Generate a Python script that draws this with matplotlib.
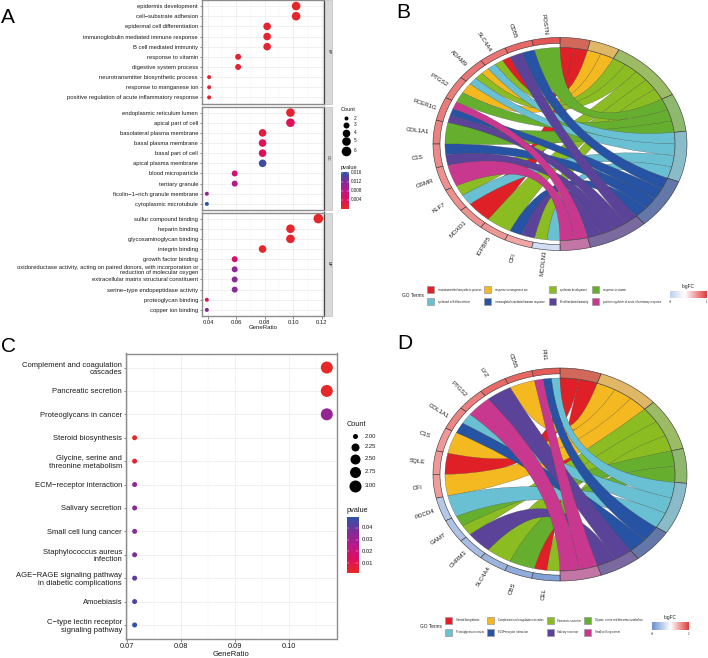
import numpy as np
import matplotlib
matplotlib.use("Agg")
import matplotlib.pyplot as plt
from matplotlib.colors import LinearSegmentedColormap, TwoSlopeNorm
from matplotlib.patches import PathPatch, Polygon, Rectangle
from matplotlib.path import Path
from matplotlib.ticker import MultipleLocator

plt.rcParams["font.family"] = ["Liberation Sans", "DejaVu Sans"]

W, H = 708, 658

# panel A
bp_terms = ["epidermis development", "cell\u2212substrate adhesion", "epidermal cell differentiation",
            "immunoglobulin mediated immune response", "B cell mediated immunity", "response to vitamin",
            "digestive system process", "neurotransmitter biosynthetic process", "response to manganese ion",
            "positive regulation of acute inflammatory response"]
bp_ratio = [0.102, 0.102, 0.0816, 0.0816, 0.0816, 0.0612, 0.0612, 0.0408, 0.0408, 0.0408]
bp_count = [5, 5, 4, 4, 4, 3, 3, 2, 2, 2]
bp_pvalue = [0.0005, 0.0007, 0.0008, 0.001, 0.001, 0.001, 0.001, 0.001, 0.001, 0.001]

cc_terms = ["endoplasmic reticulum lumen", "apical part of cell", "basolateral plasma membrane",
            "basal plasma membrane", "basal part of cell", "apical plasma membrane", "blood microparticle",
            "tertiary granule", "ficolin\u22121\u2212rich granule membrane", "cytoplasmic microtubule"]
cc_ratio = [0.098, 0.098, 0.0784, 0.0784, 0.0784, 0.0784, 0.0588, 0.0588, 0.0392, 0.0392]
cc_count = [5, 5, 4, 4, 4, 4, 3, 3, 2, 2]
cc_pvalue = [0.0008, 0.0035, 0.002, 0.0035, 0.004, 0.0155, 0.006, 0.0085, 0.0105, 0.0165]

mf_terms = ["sulfur compound binding", "heparin binding", "glycosaminoglycan binding", "integrin binding",
            "growth factor binding",
            "oxidoreductase activity, acting on paired donors, with incorporation or\nreduction of molecular oxygen",
            "extracellular matrix structural constituent", "serine\u2212type endopeptidase activity",
            "proteoglycan binding", "copper ion binding"]
mf_ratio = [0.1176, 0.098, 0.098, 0.0784, 0.0588, 0.0588, 0.0588, 0.0588, 0.0392, 0.0392]
mf_count = [6, 5, 5, 4, 3, 3, 3, 3, 2, 2]
mf_pvalue = [0.0005, 0.0006, 0.0006, 0.0006, 0.005, 0.011, 0.0115, 0.0115, 0.003, 0.012]

# panel C
kegg_terms = ["Complement and coagulation\ncascades", "Pancreatic secretion", "Proteoglycans in cancer",
              "Steroid biosynthesis", "Glycine, serine and\nthreonine metabolism", "ECM\u2212receptor interaction",
              "Salivary secretion", "Small cell lung cancer", "Staphylococcus aureus\ninfection",
              "AGE\u2212RAGE signaling pathway\nin diabetic complications", "Amoebiasis",
              "C\u2212type lectin receptor\nsignaling pathway"]
kegg_ratio = [0.1071, 0.1071, 0.1071, 0.0714, 0.0714, 0.0714, 0.0714, 0.0714, 0.0714, 0.0714, 0.0714, 0.0714]
kegg_count = [3, 3, 3, 2, 2, 2, 2, 2, 2, 2, 2, 2]
kegg_pvalue = [0.0007, 0.001, 0.032, 0.001, 0.003, 0.033, 0.035, 0.036, 0.038, 0.042, 0.044, 0.049]

# panel B
go_terms = ["neurotransmitter biosynthetic process", "response to manganese ion", "epidermis development",
            "response to vitamin", "epidermal cell differentiation", "immunoglobulin mediated immune response",
            "B cell mediated immunity", "positive regulation of acute inflammatory response"]
go_genes = ["POSTN", "CD55", "SLC4A4", "ADAM9", "PTGS2", "FCER1G", "COL1A1", "C1S", "OSMR", "KLF7",
            "MOXD1", "IGFBP5", "CFI", "MCOLN3"]
go_links = [[3], [5, 6], [0, 2, 4], [1, 2, 4], [1, 3], [7, 5, 6], [3], [5, 6], [7], [2, 4],
            [0], [2], [5, 6], [2, 4]]
go_logfc = [1.3, 1.15, 1.05, 1.05, 1.0, 1.0, 0.95, 0.9, 0.85, 0.85, 0.85, 0.8, 0.7, -0.7]

# panel D
kg_terms = ["Steroid biosynthesis", "Complement and coagulation cascades", "Pancreatic secretion",
            "Glycine, serine and threonine metabolism", "Proteoglycans in cancer", "ECM\u2212receptor interaction",
            "Salivary secretion", "Small cell lung cancer"]
kg_genes = ["FN1", "CD55", "LYZ", "PTGS2", "COL1A1", "C1S", "SQLE", "CFI", "PDCD4", "GAMT", "CHRM3",
            "SLC4A4", "CBS", "CEL"]
kg_links = [[4, 5, 7], [1], [6], [7], [4, 5], [1], [0], [1], [4], [3, 2], [6], [2], [3], [0, 2]]
kg_logfc = [1.7, 1.55, 1.5, 1.3, 1.25, 1.05, 1.05, 1.0, -1.0, -1.1, -1.2, -1.35, -1.5, -1.7]

ribbon_colors = ["#DF2027", "#F4B921", "#8BBD22", "#66AF2E", "#68C0D2", "#2653A3", "#5A4399", "#C9388F"]
ring_colors = ["#D2685A", "#DFB766", "#9BBC64", "#8FB86F", "#8ABBC8", "#6378A8", "#7B6A9F", "#C276A6"]

pvalue_cmap = LinearSegmentedColormap.from_list(
    "pvalue", ["#E62A24", "#DE0F5E", "#B8198C", "#7D2E98", "#2C55A5"])

fig = plt.figure(figsize=(W / 100, H / 100), dpi=100)


def px_axes(x0, y0, x1, y1):
    # axes from pixel box, y counted from the top of the picture
    return fig.add_axes([x0 / W, 1 - y1 / H, (x1 - x0) / W, (y1 - y0) / H])


def dot_area(diameter):
    return (np.asarray(diameter) * 0.72) ** 2


def area_a(count):
    return dot_area(np.interp(count, [2, 3, 4, 5, 6], [4, 6, 7.6, 8.6, 9.6]))


def area_c(count):
    return dot_area(np.interp(count, [2, 2.25, 2.5, 2.75, 3], [5, 8, 10, 11, 12]))


def dot_panel(ax, terms, ratio, count, pvalue, vmax, area, label_size, spacing):
    y = np.arange(len(terms))
    ax.scatter(ratio, y, s=area(np.array(count)), c=pvalue, cmap=pvalue_cmap, vmin=0, vmax=vmax,
               linewidths=0, zorder=3)
    ax.set_ylim(len(terms) - 0.4, -0.6)
    ax.set_yticks(y)
    ax.set_yticklabels(terms, fontsize=label_size, color="#1a1a1a", linespacing=spacing)
    ax.xaxis.set_minor_locator(MultipleLocator(0.01 if label_size < 5 else 0.005))
    ax.grid(True, which="major", color="#EBEBEB", lw=0.5, zorder=0)
    ax.grid(True, which="minor", axis="x", color="#F3F3F3", lw=0.35, zorder=0)
    ax.tick_params(axis="both", which="major", length=1.8, width=0.4, color="#333333", pad=1.0)
    ax.tick_params(axis="x", which="minor", length=0)
    for s in ax.spines.values():
        s.set_color("#8C8C8C")
        s.set_linewidth(1.0)


def pvalue_bar(box, low, high, ticks, labels, label_x, size):
    cax = px_axes(*box)
    cax.imshow(np.linspace(1, 0, 200).reshape(-1, 1), cmap=pvalue_cmap, aspect="auto",
               extent=[0, 1, low, high], vmin=0, vmax=1)
    cax.set_xticks([])
    cax.set_yticks(ticks)
    cax.tick_params(axis="y", length=0, labelleft=False)
    for s in cax.spines.values():
        s.set_visible(False)
    for t, lab in zip(ticks, labels):
        cax.plot([0, 0.2], [t, t], color="white", lw=0.3)
        cax.plot([0.8, 1], [t, t], color="white", lw=0.3)
        y_px = box[3] - (t - low) / (high - low) * (box[3] - box[1])
        page.text(label_x, y_px, lab, fontsize=size, va="center", color="#1a1a1a")
    cax.set_xlim(0, 1)
    cax.set_ylim(low, high)


def ellipse_point(cx, cy, rx, ry, t, r=1.0):
    a = np.radians(t)
    return cx + rx * r * np.sin(a), cy - ry * r * np.cos(a)


def ring_piece(ctx, t0, t1, r0, r1, color):
    ts = np.linspace(t0, t1, 30)
    outer = [ellipse_point(*ctx, t, r1) for t in ts]
    inner = [ellipse_point(*ctx, t, r0) for t in ts[::-1]]
    page.add_patch(Polygon(outer + inner, closed=True, facecolor=color, edgecolor="#333333", lw=0.4, zorder=4))


def edge_control(cx, cy, p_gene, p_term, mid_gene, mid_term, keep=0.2):
    # control point near the centre, pushed out a bit so ribbons stay wide in the middle
    return (cx + keep * (p_gene[0] - mid_gene[0] + p_term[0] - mid_term[0]),
            cy + keep * (p_gene[1] - mid_gene[1] + p_term[1] - mid_term[1]))


def chord(cx, cy, genes, links, logfc, norm, cmap):
    ctx = (cx, cy, 127, 106.5)
    r_in = 0.906
    total = sum(len(x) for x in links)
    unit = 180 / total
    gene_w = 180 / len(genes)

    counts = [sum(t in x for x in links) for t in range(len(ribbon_colors))]
    starts = np.concatenate([[0], np.cumsum(counts)]) * unit
    used = [0] * len(counts)

    ribbons = []
    for g, terms in enumerate(links):
        w = gene_w / len(terms)
        for k, t in enumerate(terms):
            g0 = g * gene_w + k * w
            b0 = starts[t] + used[t] * unit
            used[t] += 1
            ribbons.append((t, g0, g0 + w, b0, b0 + unit))

    # later terms sit on top, as in the original
    for t, g0, g1, b0, b1 in sorted(ribbons, key=lambda r: r[0]):
        gene_arc = [ellipse_point(*ctx, -a, r_in) for a in np.linspace(g0, g1, 8)]
        term_arc = [ellipse_point(*ctx, a, r_in) for a in np.linspace(b1, b0, 8)]
        mid_gene = ellipse_point(*ctx, -(g0 + g1) / 2, r_in)
        mid_term = ellipse_point(*ctx, (b0 + b1) / 2, r_in)
        ctrl_low = edge_control(cx, cy, gene_arc[-1], term_arc[0], mid_gene, mid_term)
        ctrl_high = edge_control(cx, cy, gene_arc[0], term_arc[-1], mid_gene, mid_term)
        verts = gene_arc + [ctrl_low] + term_arc + [ctrl_high, gene_arc[0]]
        codes = ([Path.MOVETO] + [Path.LINETO] * 7 + [Path.CURVE3, Path.CURVE3]
                 + [Path.LINETO] * 7 + [Path.CURVE3, Path.CURVE3])
        page.add_patch(PathPatch(Path(verts, codes), facecolor=ribbon_colors[t], edgecolor="#4d4d4d",
                                 lw=0.2, zorder=3))

    for t in range(len(counts)):
        ring_piece(ctx, starts[t], starts[t + 1], r_in, 1.0, ring_colors[t])

    for g, name in enumerate(genes):
        ring_piece(ctx, -g * gene_w, -(g + 1) * gene_w, 0.945, 1.0, cmap(norm(logfc[g])))
        mid = (g + 0.5) * gene_w
        x, y = ellipse_point(*ctx, -mid, 1.13)
        page.text(x, y, name, fontsize=4.4, ha="center", va="center", rotation=mid - 90,
                  rotation_mode="anchor", color="#1a1a1a")


def chord_legend(terms, box_x, text_x, row_y, title_x, bar_box, cmap, tick_labels):
    page.text(title_x, (row_y[0] + row_y[1]) / 2, "GO Terms", fontsize=3.4, va="center", ha="left",
              color="#1a1a1a")
    for i, name in enumerate(terms):
        col, row = i % 4, i // 4
        page.add_patch(Rectangle((box_x[col], row_y[row] - 3.5), 7, 7, facecolor=ribbon_colors[i],
                                 edgecolor="#9a9a9a", lw=0.5, zorder=4))
        page.text(text_x[col], row_y[row], name, fontsize=1.9, va="center", color="#222222")
    x0, y0, x1, y1 = bar_box
    bar = px_axes(x0, y0, x1, y1)
    bar.imshow(np.linspace(0, 1, 200).reshape(1, -1), cmap=cmap, aspect="auto")
    bar.axis("off")
    page.text((x0 + x1) / 2, y0 - 4.5, "logFC", fontsize=3.4, ha="center", va="center", color="#1a1a1a")
    page.text(x0, y1 + 4, tick_labels[0], fontsize=1.9, ha="center", va="center", color="#222222")
    page.text(x1, y1 + 4, tick_labels[1], fontsize=1.9, ha="center", va="center", color="#222222")


# whole picture in pixels, for everything that is not a real data axis
page = fig.add_axes([0, 0, 1, 1])
page.set_xlim(0, W)
page.set_ylim(H, 0)
page.axis("off")

# panel A
boxes_a = [(202, 0, 324, 103.5), (202, 106.5, 324, 210), (202, 212.5, 324, 316)]
facets = [(bp_terms, bp_ratio, bp_count, bp_pvalue, "BP"),
          (cc_terms, cc_ratio, cc_count, cc_pvalue, "CC"),
          (mf_terms, mf_ratio, mf_count, mf_pvalue, "MF")]
for box, (terms, ratio, count, pvalue, strip) in zip(boxes_a, facets):
    ax = px_axes(*box)
    dot_panel(ax, terms, ratio, count, pvalue, 0.0165, area_a, 4.25, 0.95)
    ax.set_xlim(0.0358, 0.1216)
    ax.set_xticks([0.04, 0.06, 0.08, 0.10, 0.12])
    if strip == "MF":
        ax.set_xticklabels(["0.04", "0.06", "0.08", "0.10", "0.12"], fontsize=4.2, color="#1a1a1a")
    else:
        ax.tick_params(axis="x", labelbottom=False, length=0)
    ax.spines["right"].set_color("#444444")
    page.add_patch(Rectangle((324.5, box[1]), 7.5, box[3] - box[1], facecolor="#D9D9D9",
                             edgecolor="#BEBEBE", lw=0.5))
    page.text(328.2, (box[1] + box[3]) / 2, strip, fontsize=2.8, rotation=-90, ha="center", va="center",
              color="#222222")
page.text(263, 327.5, "GeneRatio", fontsize=4.3, ha="center", va="center", color="#1a1a1a")

page.text(341, 109.5, "Count", fontsize=4.1, va="center", color="#1a1a1a")
legend_y_a = [118, 125, 133, 141, 151]
for y, c in zip(legend_y_a, [2, 3, 4, 5, 6]):
    page.scatter([346], [y], s=area_a(c), color="black", linewidths=0)
    page.text(354, y, str(c), fontsize=3.4, va="center", color="#1a1a1a")
page.text(341, 167.5, "pvalue", fontsize=4.1, va="center", color="#1a1a1a")
pvalue_bar((341, 172, 349, 209), 0.0, 0.0164, [0.004, 0.008, 0.012, 0.016],
           ["0.004", "0.008", "0.012", "0.016"], 351, 3.3)

# panel C
ax = px_axes(126, 353.5, 336.5, 639)
dot_panel(ax, kegg_terms, kegg_ratio, kegg_count, kegg_pvalue, 0.0494, area_c, 5.5, 1.12)
ax.set_xlim(0.0698, 0.1089)
ax.set_xticks([0.07, 0.08, 0.09, 0.10])
ax.set_xticklabels(["0.07", "0.08", "0.09", "0.10"], fontsize=5.3, color="#1a1a1a")
page.text(231, 654, "GeneRatio", fontsize=5.5, ha="center", va="center", color="#1a1a1a")

page.text(347, 424, "Count", fontsize=5.3, va="center", color="#1a1a1a")
legend_y_c = [436, 447, 458.5, 471.5, 485.5]
for y, c, lab in zip(legend_y_c, [2, 2.25, 2.5, 2.75, 3], ["2.00", "2.25", "2.50", "2.75", "3.00"]):
    page.scatter([354.5], [y], s=area_c(c), color="black", linewidths=0)
    page.text(365, y, lab, fontsize=4.2, va="center", color="#1a1a1a")
page.text(347, 510.5, "pvalue", fontsize=5.3, va="center", color="#1a1a1a")
pvalue_bar((347, 517, 358, 573), 0.0015, 0.0494, [0.01, 0.02, 0.03, 0.04],
           ["0.01", "0.02", "0.03", "0.04"], 362, 4.2)

# panels B and D
cmap_b = LinearSegmentedColormap.from_list("logfc_b", ["#BDD0EE", "#FFFFFF", "#E03C3A"])
norm_b = TwoSlopeNorm(vcenter=0, vmin=-1, vmax=1.5)
bar_b = LinearSegmentedColormap.from_list("bar_b", [(0, "#BDD0EE"), (0.4, "#FFFFFF"), (1, "#E03C3A")])
chord(560, 144, go_genes, go_links, go_logfc, norm_b, cmap_b)
chord_legend(go_terms, [427, 484, 549, 592], [438, 495, 560, 603], [289.5, 301.5], 402,
             (670, 291, 707, 298), bar_b, ["\u22121", "1"])

cmap_d = LinearSegmentedColormap.from_list("logfc_d", ["#6A90CE", "#FFFFFF", "#E03C3A"])
norm_d = TwoSlopeNorm(vcenter=0, vmin=-2, vmax=2)
chord(560, 474.5, kg_genes, kg_links, kg_logfc, norm_d, cmap_d)
chord_legend(kg_terms, [445, 487, 547, 584], [456, 498, 557, 595], [620.5, 632.5], 420,
             (652, 622, 689, 630), cmap_d, ["\u22122", "2"])

# panel letters
for x, y, letter in [(1, 17.5, "A"), (396, 12.5, "B"), (1, 347, "C"), (397, 343.5, "D")]:
    page.text(x, y, letter, fontsize=15, va="center", color="black")

page.set_zorder(5)
fig.savefig("out.png", dpi=100)
